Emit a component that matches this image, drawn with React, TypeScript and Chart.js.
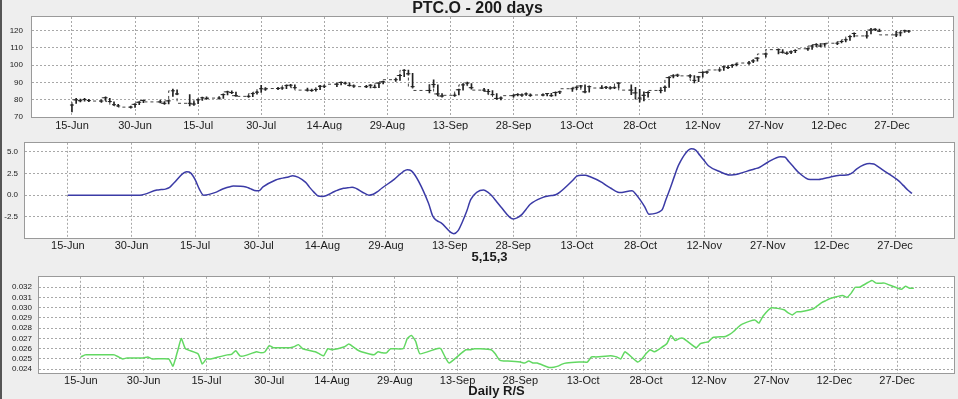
import React, { useEffect, useRef } from 'react';
import { Chart, registerables } from 'chart.js';

Chart.register(...registerables);

// Trading days, counted in calendar days from 15-Jun
const tradingDays = [
  0, 1, 2, 3, 4, 7, 8, 9, 10, 11, 14, 15, 16, 17, 21, 22, 23, 24, 25, 28, 29, 30, 31, 32,
  35, 36, 37, 38, 39, 42, 43, 44, 45, 46, 49, 50, 51, 52, 53, 56, 57, 58, 59, 60,
  63, 64, 65, 66, 67, 70, 71, 72, 73, 74, 77, 78, 79, 80, 81, 85, 86, 87, 88,
  91, 92, 93, 94, 95, 98, 99, 100, 101, 102, 105, 106, 107, 108, 109, 112, 113, 114, 115, 116,
  119, 120, 121, 122, 123, 126, 127, 128, 129, 130, 133, 134, 135, 136, 137,
  140, 141, 142, 143, 144, 147, 148, 149, 150, 151, 154, 155, 156, 157, 158,
  161, 162, 163, 165, 168, 169, 170, 171, 172, 175, 176, 177, 178, 179,
  182, 183, 184, 185, 186, 189, 190, 191, 192, 196, 197, 198, 199,
];

const closePrices = [
  77.0, 80.0, 79.5, 80.2, 79.6, 79.3, 81.2, 79.0, 77.2, 76.5, 75.8, 77.4, 78.6, 79.6,
  78.8, 78.0, 79.4, 85.2, 83.4, 78.0, 77.6, 80.0, 81.2, 80.8,
  81.0, 83.0, 84.6, 84.2, 82.4, 82.0, 83.6, 84.4, 86.4, 86.2, 86.5, 86.8, 88.2, 88.4, 87.0,
  85.6, 85.4, 86.0, 87.8, 87.8, 89.0, 90.0, 89.6, 88.3, 88.0, 87.6, 88.4, 87.2, 89.6, 90.4,
  91.6, 94.0, 97.0, 95.0, 87.6, 85.4, 88.8, 83.4, 82.2,
  82.6, 85.8, 88.6, 89.6, 87.0, 85.6, 84.8, 83.0, 80.8, 81.0, 82.4, 83.0, 82.8, 83.4, 82.6,
  82.8, 83.6, 82.4, 84.2, 84.6, 86.4, 87.2, 88.0, 84.6, 87.6, 86.8, 87.2, 86.8, 87.0, 89.6,
  85.6, 84.0, 81.0, 82.6, 84.2, 85.4, 87.2, 92.8, 93.8, 94.2, 93.8, 91.2, 93.2, 95.8, 96.0,
  97.2, 99.0, 98.6, 99.8, 100.4, 101.2, 102.4, 104.0, 106.4, 108.9, 107.4, 106.8, 107.6, 108.4,
  109.4, 111.0, 111.8, 111.0, 112.2, 112.6, 113.6, 114.6, 116.4, 118.2, 116.8, 120.2, 120.6, 119.6,
  117.4, 118.6, 119.8, 119.6,
];

const highPrices = [
  77.5, 80.8, 80.5, 80.8, 80.3, 80.0, 81.8, 80.8, 78.8, 77.4, 76.4, 77.8, 79.0, 80.0,
  79.9, 79.0, 79.8, 86.2, 85.8, 83.0, 79.0, 80.5, 81.6, 81.8,
  81.8, 83.4, 85.0, 85.2, 84.4, 82.8, 84.0, 85.0, 88.3, 87.0, 87.2, 87.4, 88.6, 89.0, 88.6,
  86.8, 86.2, 86.4, 88.3, 88.4, 89.6, 90.4, 90.2, 89.8, 88.6, 88.4, 88.8, 88.7, 90.0, 90.8,
  92.4, 94.8, 97.4, 97.2, 95.2, 88.8, 91.5, 88.6, 83.6,
  83.4, 86.2, 89.2, 90.2, 89.4, 86.6, 86.0, 85.4, 83.6, 81.6, 83.0, 83.6, 83.4, 84.0, 83.4,
  83.4, 83.8, 83.8, 84.6, 85.0, 86.8, 87.6, 88.4, 88.6, 88.0, 88.2, 87.8, 87.6, 87.6, 90.0,
  88.6, 87.2, 86.0, 84.6, 84.8, 87.0, 88.0, 93.4, 94.6, 94.8, 94.6, 94.0, 93.6, 96.2, 96.6,
  97.8, 99.6, 99.6, 100.4, 101.2, 102.2, 103.2, 104.4, 107.0, 109.4, 109.0, 107.6, 108.2, 108.8,
  110.0, 111.4, 112.4, 112.4, 112.6, 113.2, 114.0, 115.2, 116.8, 118.6, 119.4, 121.2, 121.0, 120.8,
  119.4, 119.2, 120.2, 120.0,
];

const lowPrices = [
  73.0, 78.0, 78.8, 79.2, 78.9, 78.5, 79.5, 78.6, 76.8, 76.0, 75.2, 75.6, 77.2, 78.4,
  78.2, 77.3, 77.6, 82.0, 83.0, 76.5, 76.8, 77.8, 79.6, 80.2,
  80.4, 80.8, 82.8, 83.6, 82.0, 81.4, 81.8, 83.2, 84.3, 85.4, 85.8, 86.0, 86.4, 87.6, 86.6,
  85.0, 84.9, 85.0, 85.8, 87.0, 87.6, 88.6, 89.0, 87.8, 87.2, 87.0, 86.8, 86.8, 87.0, 89.2,
  90.6, 91.2, 93.4, 94.2, 86.8, 84.0, 87.2, 82.2, 81.6,
  82.0, 82.8, 85.6, 88.4, 86.2, 85.0, 83.2, 82.8, 80.2, 80.0, 81.6, 82.2, 82.0, 82.6, 82.0,
  82.2, 82.2, 82.0, 82.2, 83.6, 84.8, 85.8, 86.8, 84.0, 84.4, 86.4, 86.4, 86.2, 86.4, 86.8,
  83.0, 80.4, 78.6, 79.4, 81.6, 84.0, 84.8, 87.2, 92.6, 93.4, 92.8, 89.8, 90.4, 93.0, 95.2,
  96.4, 97.0, 98.0, 98.6, 99.6, 100.4, 101.4, 102.2, 104.6, 106.4, 106.8, 106.2, 106.6, 107.2,
  108.4, 109.0, 110.6, 110.6, 110.8, 111.8, 112.8, 113.4, 114.2, 116.2, 115.5, 118.0, 119.8, 119.2,
  116.4, 116.8, 118.8, 118.8,
];

// "5,15,3" oscillator
const oscillator = [
  0, 0, 0, 0, 0, 0, 0, 0, 0, 0, 0, 0, 0, 0,
  0.6, 0.65, 0.7, 0.9, 1.4, 2.7, 2.55, 1.8, 0.7, 0.0,
  0.35, 0.6, 0.8, 0.95, 1.05, 0.95, 0.75, 0.55, 0.5, 0.95, 1.75, 1.9, 2.0, 2.1, 2.25,
  1.5, 0.9, 0.35, -0.1, -0.15, 0.45, 0.65, 0.8, 0.85, 0.9, 0.2, 0.0, 0.1, 0.4, 0.8,
  1.85, 2.3, 2.7, 2.95, 2.8, -0.9, -2.4, -2.95, -3.2,
  -4.45, -4.1, -3.1, -1.9, -0.5, 0.6, 0.35, -0.1, -0.7, -1.3, -2.75, -2.6, -2.25, -1.65, -1.05,
  -0.25, -0.12, -0.05, 0.05, 0.35, 1.7, 2.2, 2.3, 2.3, 2.15, 1.45, 1.1, 0.8, 0.5, 0.3,
  0.5, 0.05, -0.6, -1.35, -2.2, -1.75, -0.5, 0.8, 2.2, 3.5, 5.35, 5.2, 4.6, 4.0, 3.4,
  2.65, 2.45, 2.32, 2.35, 2.45, 2.9, 3.05, 3.2, 3.8, 4.45, 4.4, 3.85, 3.3, 2.75,
  1.8, 1.8, 1.8, 1.9, 2.0, 2.3, 2.3, 2.35, 2.6, 3.05, 3.65, 3.6, 3.3, 2.95,
  1.6, 1.1, 0.6, 0.2,
];

// Daily relative strength
const relativeStrength = [
  0.0252, 0.0254, 0.0254, 0.0254, 0.0254, 0.0254, 0.0254, 0.0252, 0.025, 0.0251, 0.0251, 0.0251, 0.0252, 0.025,
  0.025, 0.0243, 0.0256, 0.027, 0.026, 0.0255, 0.0245, 0.025, 0.025, 0.0251,
  0.0254, 0.02545, 0.0258, 0.0253, 0.0253, 0.0257, 0.0256, 0.0257, 0.0263, 0.0261, 0.0261, 0.0261, 0.0262, 0.0264, 0.026,
  0.0257, 0.0255, 0.0253, 0.026, 0.0259, 0.0262, 0.02645, 0.0262, 0.0259, 0.0257, 0.0254, 0.0257, 0.0256, 0.0256, 0.026,
  0.026, 0.027, 0.0273, 0.0267, 0.0255, 0.026, 0.026, 0.0252, 0.0246,
  0.0256, 0.0259, 0.0259, 0.026, 0.026, 0.0259, 0.0255, 0.0249, 0.0248, 0.0248, 0.0247, 0.0246, 0.0248, 0.0246, 0.0246,
  0.02416, 0.0242, 0.0243, 0.0245, 0.0246, 0.0247, 0.0247, 0.0247, 0.0252, 0.0252, 0.0253, 0.0253, 0.0252, 0.025, 0.0257,
  0.0247, 0.025, 0.0255, 0.0259, 0.0257, 0.0265, 0.0273, 0.0268, 0.027, 0.027, 0.0261, 0.0265, 0.0266, 0.0267, 0.0271,
  0.0272, 0.0274, 0.0277, 0.0281, 0.0284, 0.0288, 0.0285, 0.0292, 0.03, 0.0298, 0.0295, 0.0293, 0.0296, 0.0296,
  0.0299, 0.0302, 0.0305, 0.0307, 0.0309, 0.0312, 0.031, 0.0314, 0.032, 0.032, 0.03265, 0.0324, 0.0324, 0.0324,
  0.0318, 0.0321, 0.0319, 0.0319,
];

const dateTickValues = [0, 15, 30, 45, 60, 75, 90, 105, 120, 135, 150, 165, 180, 195];
const dateTickLabels = [
  '15-Jun', '30-Jun', '15-Jul', '30-Jul', '14-Aug', '29-Aug', '13-Sep',
  '28-Sep', '13-Oct', '28-Oct', '12-Nov', '27-Nov', '12-Dec', '27-Dec',
];
const priceTicks = [70, 80, 90, 100, 110, 120];
const oscTicks = [-2.5, 0, 2.5, 5];
const rsTicks = [0.024, 0.025, 0.026, 0.027, 0.028, 0.029, 0.03, 0.031, 0.032];

const FONT = "'Liberation Sans', Arial, sans-serif";
const TEXT = '#1a1a1a';
const GRID = '#a8a8a8';

const plotFrame = {
  id: 'plotFrame',
  beforeDraw(chart: any) {
    const { ctx, chartArea: a } = chart;
    ctx.save();
    ctx.fillStyle = '#ffffff';
    ctx.fillRect(a.left, a.top, a.right - a.left, a.bottom - a.top);
    ctx.restore();
  },
  afterDraw(chart: any) {
    const { ctx, chartArea: a } = chart;
    ctx.save();
    ctx.strokeStyle = '#9a9a9a';
    ctx.lineWidth = 1;
    ctx.strokeRect(
      Math.round(a.left) - 0.5,
      Math.round(a.top) - 0.5,
      Math.round(a.right - a.left) + 1,
      Math.round(a.bottom - a.top) + 1
    );
    ctx.restore();
  },
};

function xAxis(min: number, max: number, height: number, pad: number, title?: string) {
  return {
    type: 'linear',
    min,
    max,
    offset: false,
    afterBuildTicks: (s: any) => {
      s.ticks = dateTickValues.map((v) => ({ value: v }));
    },
    afterFit: (s: any) => {
      s.height = height;
    },
    ticks: {
      autoSkip: false,
      maxRotation: 0,
      padding: pad,
      color: TEXT,
      font: { family: FONT, size: 11 },
      callback: (v: number) => {
        const i = dateTickValues.indexOf(v);
        return i >= 0 ? dateTickLabels[i] : '';
      },
    },
    grid: { color: GRID, drawTicks: false, offset: false, lineWidth: 1 },
    border: { display: false, dash: [2, 2] },
    title: title
      ? {
          display: true,
          text: title,
          color: TEXT,
          font: { family: FONT, size: 13, weight: 'bold' },
          padding: { top: 0, bottom: 0 },
        }
      : { display: false },
  };
}

function yAxis(min: number, max: number, width: number, ticks: number[], fmt: (v: number) => string, pad: number) {
  return {
    type: 'linear',
    position: 'left',
    min,
    max,
    afterBuildTicks: (s: any) => {
      s.ticks = ticks.map((v) => ({ value: v }));
    },
    afterFit: (s: any) => {
      s.width = width;
    },
    ticks: {
      autoSkip: false,
      padding: pad,
      color: TEXT,
      font: { family: FONT, size: 8 },
      callback: (v: number) => fmt(v),
    },
    grid: { color: GRID, drawTicks: false, lineWidth: 1 },
    border: { display: false, dash: [2, 2] },
  };
}

const commonPlugins = {
  legend: { display: false },
  tooltip: { enabled: false },
};

function buildPrice(): any {
  return {
    type: 'bar',
    data: {
      datasets: [
        {
          type: 'line',
          data: tradingDays.map((d, i) => ({ x: d, y: closePrices[i] })),
          stepped: 'after',
          borderColor: '#444444',
          borderWidth: 1,
          borderDash: [3, 3],
          pointStyle: 'line',
          pointRadius: 2,
          pointBorderColor: '#222222',
          pointBorderWidth: 1,
          order: 0,
        },
        {
          type: 'bar',
          data: tradingDays.map((d, i) => ({ x: d, y: [lowPrices[i], highPrices[i]] })),
          backgroundColor: '#222222',
          borderWidth: 0,
          barThickness: 1,
          order: 1,
        },
      ],
    },
    options: {
      responsive: false,
      animation: false,
      events: [],
      layout: { padding: { left: 0, right: 3, top: 0, bottom: 0 } },
      plugins: {
        ...commonPlugins,
        title: {
          display: true,
          text: 'PTC.O - 200 days',
          color: TEXT,
          font: { family: FONT, size: 16, weight: 'bold', lineHeight: 1.0625 },
          padding: { top: 0, bottom: 0 },
        },
      },
      scales: {
        x: xAxis(-9.5, 209.5, 13, 2),
        y: yAxis(70, 127.7, 32, priceTicks, (v) => String(v), 9),
      },
    },
    plugins: [plotFrame],
  };
}

function buildOsc(): any {
  return {
    type: 'line',
    data: {
      datasets: [
        {
          data: tradingDays.map((d, i) => ({ x: d, y: oscillator[i] })),
          borderColor: '#3b3ba6',
          borderWidth: 1.5,
          pointRadius: 0,
          cubicInterpolationMode: 'monotone',
          fill: false,
        },
      ],
    },
    options: {
      responsive: false,
      animation: false,
      events: [],
      layout: { padding: { left: 0, right: 4, top: 6, bottom: 0 } },
      plugins: commonPlugins,
      scales: {
        x: xAxis(-10.1, 208.9, 27, 1, '5,15,3'),
        y: yAxis(-4.95, 6.05, 25, oscTicks, (v) => v.toFixed(1), 7),
      },
    },
    plugins: [plotFrame],
  };
}

function buildRS(): any {
  return {
    type: 'line',
    data: {
      datasets: [
        {
          data: tradingDays.map((d, i) => ({ x: d, y: relativeStrength[i] })),
          borderColor: '#62d862',
          borderWidth: 1.5,
          pointRadius: 0,
          tension: 0.15,
          fill: false,
        },
      ],
    },
    options: {
      responsive: false,
      animation: false,
      events: [],
      layout: { padding: { left: 0, right: 4, top: 7, bottom: 0 } },
      plugins: commonPlugins,
      scales: {
        x: xAxis(-10, 208.6, 26, 1, 'Daily R/S'),
        y: yAxis(0.02363, 0.03302, 39, rsTicks, (v) => v.toFixed(3), 7),
      },
    },
    plugins: [plotFrame],
  };
}

function Panel({ top, height, build }: { top: number; height: number; build: () => any }) {
  const ref = useRef<HTMLCanvasElement>(null);
  useEffect(() => {
    const chart = new Chart(ref.current as HTMLCanvasElement, build());
    return () => chart.destroy();
  }, []);
  return (
    <canvas
      ref={ref}
      width={958}
      height={height}
      style={{ position: 'absolute', left: 0, top, width: 958, height, display: 'block' }}
    />
  );
}

export default function App() {
  return (
    <div
      style={{
        position: 'absolute',
        left: 0,
        top: 0,
        width: 958,
        height: 399,
        overflow: 'hidden',
        background: '#eeeeee',
      }}
    >
      <Panel top={0} height={131} build={buildPrice} />
      <Panel top={131} height={134} build={buildOsc} />
      <Panel top={265} height={134} build={buildRS} />
      <div style={{ position: 'absolute', left: 0, top: 0, width: 2, height: 399, background: '#555555' }} />
    </div>
  );
}
